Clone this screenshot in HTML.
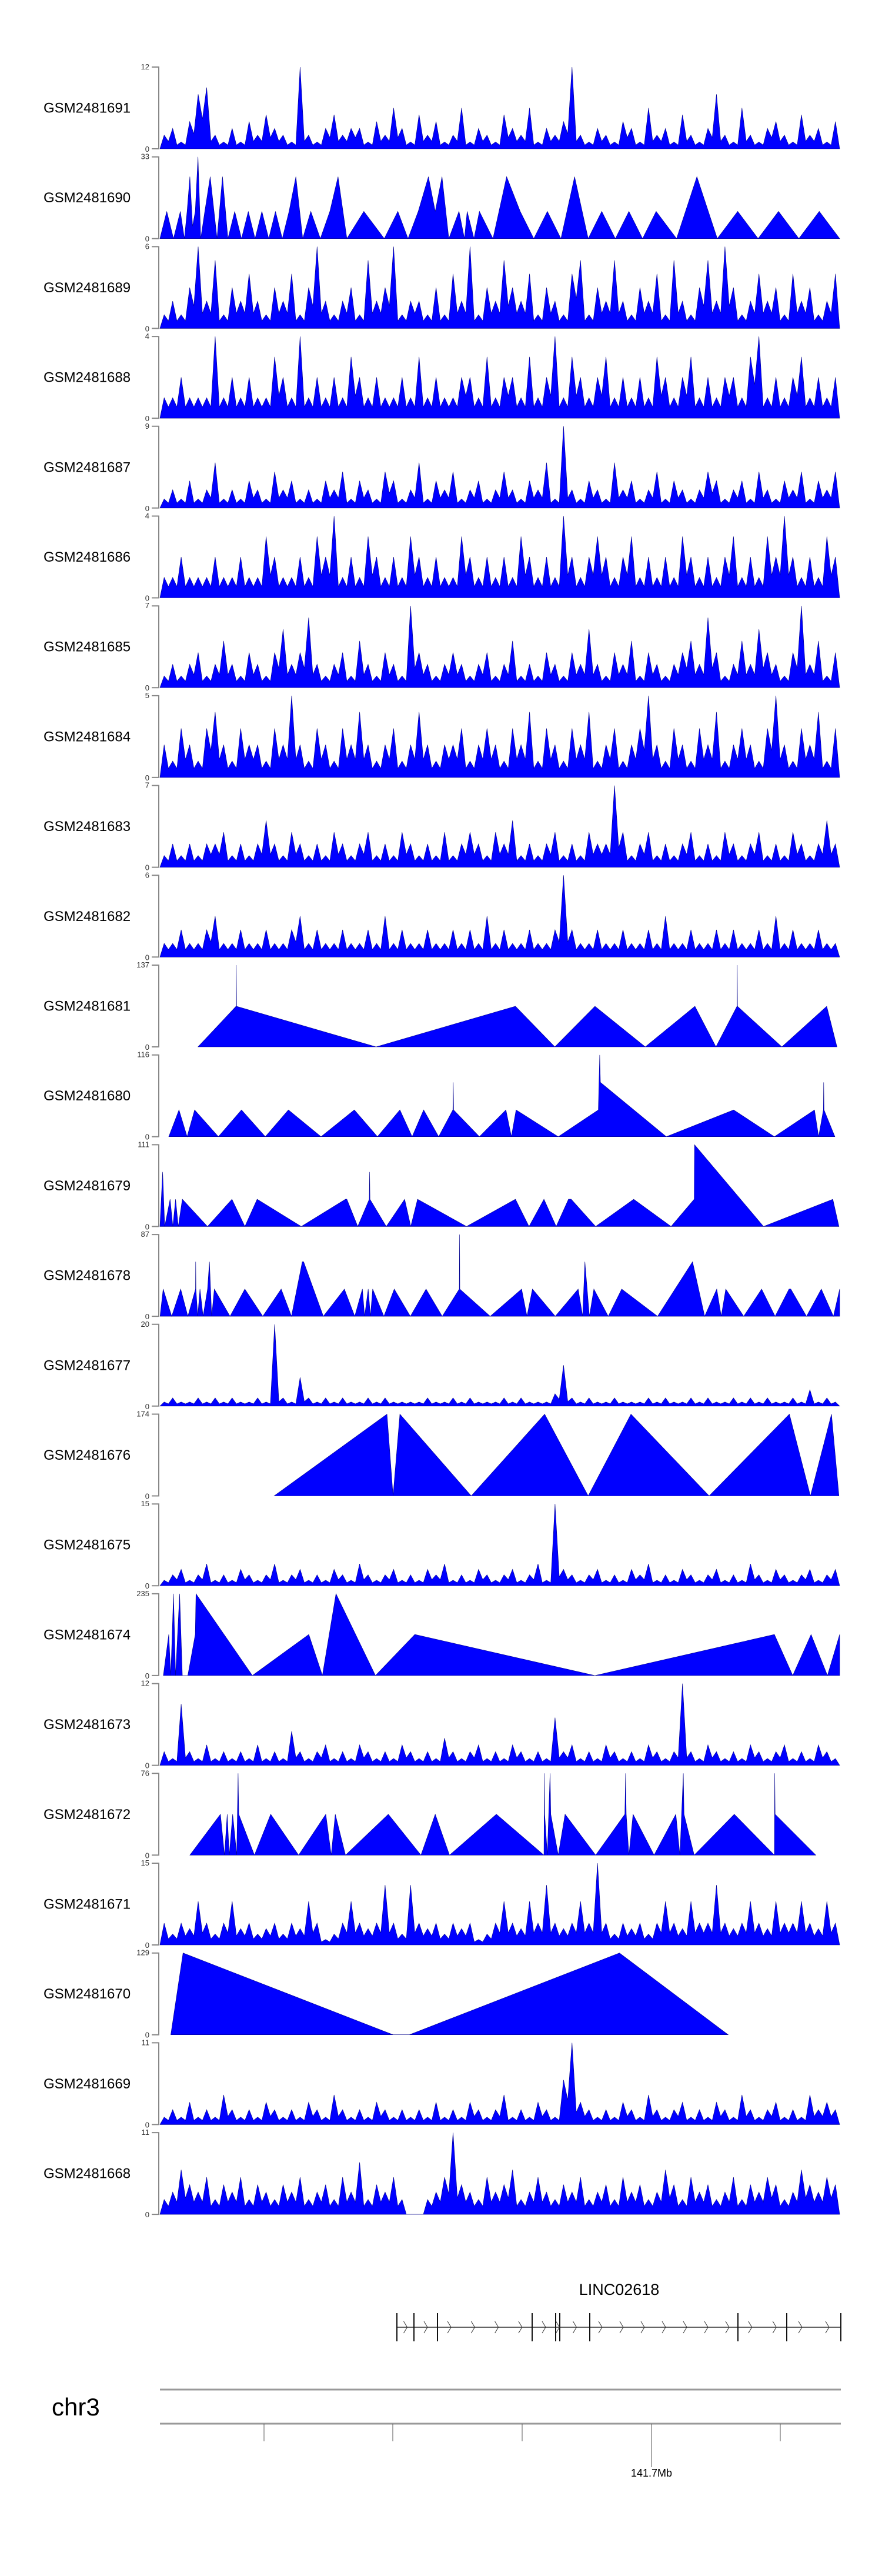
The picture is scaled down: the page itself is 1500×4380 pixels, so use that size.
<!DOCTYPE html>
<html><head><meta charset="utf-8">
<style>
html,body{margin:0;padding:0;background:#fff;}
svg{display:block;font-family:"Liberation Sans",sans-serif;}
</style></head>
<body>
<svg id="chart" width="1500" height="4380" viewBox="0 0 1500 4380" xmlns="http://www.w3.org/2000/svg">
<g id="tracks"></g>
<g id="gene">
  <text x="1053" y="3902" font-size="27" text-anchor="middle" fill="#000">LINC02618</text>
</g>
<g id="ideo">
  <text x="88" y="4107" font-size="42" fill="#000">chr3</text>
  <text x="1108" y="4211" font-size="18" text-anchor="middle" fill="#000">141.7Mb</text>
</g>
</svg>
<script>
// ---- data ----
const trackNames = ["GSM2481691","GSM2481690","GSM2481689","GSM2481688","GSM2481687","GSM2481686","GSM2481685","GSM2481684","GSM2481683","GSM2481682","GSM2481681","GSM2481680","GSM2481679","GSM2481678","GSM2481677","GSM2481676","GSM2481675","GSM2481674","GSM2481673","GSM2481672","GSM2481671","GSM2481670","GSM2481669","GSM2481668"];
const trackMax = [12,33,6,4,9,4,7,5,7,6,137,116,111,87,20,174,15,235,12,76,15,129,11,11];

const t1Values = [2,3,1,4,8,9,2,1,3,1,4,2,5,3,2,1,12,2,1,3,5,2,3,3,1,4,2,6,3,1,5,2,4,1,2,6,1,3,2,1,5,3,2,6,1,3,2,4,12,2,1,3,2,1,4,3,1,6,2,3,1,5,2,1,3,8,2,1,6,2,1,3,4,2,1,5,2,3,1,4];
const t3Values = [1,2,1,3,6,2,5,1,3,2,4,2,1,3,2,4,1,3,6,2,1,2,3,1,5,2,3,6,1,2,2,1,3,1,4,2,6,1,3,2,5,3,2,4,1,3,2,1,4,5,1,3,2,5,2,1,3,2,4,1,5,2,1,3,5,2,6,3,1,2,4,2,3,1,4,2,3,1,2,4];
const t4Values = [1,1,2,1,1,1,4,1,2,1,2,1,1,3,2,1,4,1,2,1,2,1,3,2,1,2,1,1,2,1,3,1,2,1,1,2,2,1,3,1,2,2,1,3,1,2,4,1,3,2,1,2,3,1,2,1,2,1,3,2,1,2,3,1,2,1,2,2,1,3,4,1,2,1,2,3,1,2,1,2];
const t5Values = [1,2,1,3,1,2,5,1,2,1,3,2,1,4,2,3,1,2,1,3,2,4,1,3,2,1,4,3,1,2,5,1,3,2,4,1,2,3,1,2,4,2,1,3,2,5,1,9,2,1,3,2,1,5,2,3,1,2,4,1,3,2,1,2,4,3,1,2,3,1,4,2,1,3,2,4,1,3,2,4];
const t6Values = [1,1,2,1,1,1,2,1,1,2,1,1,3,2,1,1,2,1,3,2,4,1,2,1,3,2,1,2,1,3,2,1,2,1,1,3,2,1,2,1,2,1,3,2,1,2,1,4,2,1,2,3,2,1,2,3,1,2,1,2,1,3,2,1,2,1,2,3,1,2,1,3,2,4,2,1,2,1,3,2];
const t7Values = [1,2,1,2,3,1,2,4,2,1,3,2,1,3,5,2,3,6,2,1,2,3,1,4,2,1,3,2,1,7,3,2,1,2,3,2,1,2,3,1,2,4,1,2,1,3,2,1,3,2,5,2,1,3,2,4,1,3,2,1,2,3,4,2,6,3,1,2,4,2,5,3,2,1,3,7,2,4,1,3];
const t8Values = [2,1,3,2,1,3,4,2,1,3,2,2,1,3,2,5,2,1,3,2,1,3,2,4,2,1,2,3,1,2,4,2,1,2,2,3,1,2,3,2,1,3,2,4,1,3,2,1,3,2,4,1,2,3,1,2,3,5,2,1,3,2,1,3,2,4,1,2,3,2,1,3,5,2,1,3,2,4,1,3];
const t9Values = [1,2,1,2,1,2,2,3,1,2,1,2,4,2,1,3,2,1,2,1,3,2,1,2,3,1,2,1,3,2,1,2,1,3,1,2,3,2,1,3,2,4,1,2,1,2,3,1,2,1,3,2,2,7,3,1,2,3,1,2,1,2,3,1,2,1,3,2,1,2,3,1,2,1,3,2,1,2,4,2];
const t10Values = [1,1,2,1,1,2,3,1,1,2,1,1,2,1,1,2,3,1,2,1,1,2,1,1,2,1,3,1,2,1,1,2,1,1,2,1,2,1,3,1,2,1,1,2,1,1,2,6,2,1,1,2,1,1,2,1,1,2,1,3,1,1,2,1,1,2,1,2,1,1,2,1,3,1,2,1,1,2,1,1];
const t15Values = [1,2,1,1,2,1,2,1,2,1,1,2,1,20,2,1,7,2,1,2,1,2,1,1,2,1,2,1,1,1,1,2,1,1,2,1,2,1,1,1,2,1,2,1,1,1,3,10,2,1,2,1,1,2,1,1,1,2,1,2,1,1,2,1,2,1,1,2,1,2,1,2,1,1,2,1,4,1,2,1];
const t17Values = [1,2,3,1,2,4,1,2,1,3,2,1,2,4,1,2,3,1,2,1,3,2,1,4,2,1,2,3,1,2,1,3,2,4,1,2,1,3,2,1,2,3,1,2,4,1,15,3,2,1,2,3,1,2,1,3,2,4,1,2,1,3,2,1,2,3,1,2,1,4,2,1,3,2,1,2,3,1,2,3];
const t19Values = [2,1,9,2,1,3,1,2,1,2,1,3,1,2,1,5,2,1,2,3,1,2,1,3,2,1,2,1,3,2,1,2,1,4,2,1,2,3,1,2,1,3,2,1,2,1,7,2,3,1,2,1,3,2,1,2,1,3,2,1,2,12,2,1,3,2,1,2,1,3,2,1,2,3,1,2,1,3,2,1];
const t21Values = [4,2,4,3,8,4,2,4,8,3,4,2,3,4,2,4,3,8,4,1,2,4,8,4,3,4,11,4,2,11,4,3,4,2,4,3,4,1,2,4,8,4,3,8,4,11,4,3,4,8,4,15,4,2,4,3,4,2,4,8,4,3,8,4,4,11,4,3,4,8,4,3,8,4,4,8,4,3,8,4];
const t23Values = [1,2,1,3,1,2,1,4,2,1,2,1,3,2,1,2,1,3,2,1,4,2,1,2,1,3,2,1,2,1,2,1,3,1,2,1,3,2,1,2,4,1,2,1,3,2,1,6,11,3,2,1,2,1,3,2,1,4,2,1,2,3,1,2,1,3,2,1,4,2,1,2,3,1,2,1,4,2,3,2];
const t24Values = [2,3,6,4,3,5,2,4,3,5,2,4,3,2,4,3,5,2,3,4,2,5,3,7,2,4,3,5,2,0,0,2,3,5,11,4,3,2,5,3,4,6,2,3,5,3,2,4,3,5,2,3,4,2,5,3,4,2,3,6,4,2,5,3,4,2,3,5,2,4,3,5,4,2,3,6,4,3,5,4];

// triangle tracks: genomic positions (0-1000 of view) and values
const t2Pos = [0,10,20,30,36,40,44,48,52,56,60,66,74,84,92,100,110,120,130,140,150,160,170,180,190,200,210,222,236,250,262,275,300,330,350,365,380,395,405,415,425,440,448,452,462,470,490,510,530,550,570,590,610,630,650,670,690,710,730,760,790,820,850,880,910,940,970,1000];
const t2Values = [0,11,0,11,0,11,25,5,11,33,0,11,25,0,25,0,11,0,11,0,11,0,11,0,11,25,0,11,0,11,25,0,11,0,11,0,11,25,11,25,0,11,0,11,0,11,0,25,11,0,11,0,25,0,11,0,11,0,11,0,25,0,11,0,11,0,11,0];
const t11Pos = [56,112,112.3,112.6,318,523,581,640,714,787,818,849,849.3,849.6,915,981,996];
const t11Values = [0,68,137,68,0,68,0,68,0,68,0,68,137,68,0,68,0];
const t12Pos = [13,28,40,51,86,120,155,189,237,286,320,353,371,388,410,431,431.5,432,470,509,517,524,586,645,647,648,745,844,904,963,969,976,976.5,977,993];
const t12Values = [0,38,0,38,0,38,0,38,0,38,0,38,0,38,0,38,77,38,0,38,0,38,0,38,116,77,0,38,0,38,0,38,77,38,0];
const t13Pos = [-1,2,4,7,15,19,23,27,33,70,106,125,143,208,273,275,291,308,308.5,309,333,360,369,379,451,523,543,565,583,601,605,641,697,752,786,786.5,888,990,999];
const t13Values = [0,37,74,0,37,0,37,0,37,0,37,0,37,0,37,37,0,37,74,37,0,37,0,37,0,37,0,37,0,37,37,0,37,0,37,111,0,37,0];
const t14Pos = [0.2,4.8,17.3,30.5,41.1,52.3,52.6,52.9,55.6,58.9,63.5,70.1,72.8,76.1,80,103.1,124.9,151.3,178.4,193.5,209.4,211.4,240.4,271.4,286.6,297.8,301.1,306.4,309.7,313,329.5,344.7,368.4,391.5,415.3,440.4,440.8,441.2,485.9,532.1,540,548,581.6,615.3,621.9,625.2,631.8,638.4,659.5,679.3,732.1,783.6,801.4,819.2,825.8,832.4,858.8,885.2,905,925.5,928.1,951.2,973,990.8,1000];
const t14Values = [0,29,0,29,0,29,58,29,0,29,0,29,58,0,29,0,29,0,29,0,58,58,0,29,0,29,0,29,0,29,0,29,0,29,0,29,87,29,0,29,0,29,0,29,0,58,0,29,0,29,0,58,0,29,0,29,0,29,0,29,29,0,29,0,29];
const t16Pos = [168,334,343,353,458,566,630,693,808,926,957,988,999];
const t16Values = [0,174,0,174,0,174,0,174,0,174,0,174,0];
const t18Pos = [5,13,16,20,23,29,33,41,52,53,136,219,239,259,317,375,640,904,931,958,982,1000];
const t18Values = [0,118,0,235,0,235,0,0,118,235,0,118,0,235,0,118,0,118,0,118,0,118];
const t20Pos = [44,89,95,99,102,107,113,115,116,139,163,204,244,252,258,273,336,384,405,426,495,565,565.5,566,570,574,575,586,596,641,684,685,686,690,696,727,759,765,770,771,786,845,904,904.5,905,965];
const t20Values = [0,38,0,38,0,38,0,76,38,0,38,0,38,0,38,0,38,0,38,0,38,0,76,38,0,76,38,0,38,0,38,76,38,0,38,0,38,0,76,38,0,38,0,76,38,0];
const t22Pos = [16,34,343,367,676,836];
const t22Values = [0,129,0,0,129,0];

const noisyMap = {0:t1Values,2:t3Values,3:t4Values,4:t5Values,5:t6Values,6:t7Values,7:t8Values,8:t9Values,9:t10Values,14:t15Values,16:t17Values,18:t19Values,20:t21Values,22:t23Values,23:t24Values};
const triMap = {1:[t2Pos,t2Values],10:[t11Pos,t11Values],11:[t12Pos,t12Values],12:[t13Pos,t13Values],13:[t14Pos,t14Values],15:[t16Pos,t16Values],17:[t18Pos,t18Values],19:[t20Pos,t20Values],21:[t22Pos,t22Values]};

// gene model
const exonPos = [675,704,744,905,945,952,1003,1255,1338,1430];
const chromTicks = [449,668,888,1108,1327];

// ---- drawing ----
const NS = "http://www.w3.org/2000/svg";
const X0 = 272, XW = 1156, TOP0 = 114, PITCH = 152.7, H = 139;
function xScale(p){ return X0 + p/1000*XW; }
function mk(tag, attrs, parent){ const e=document.createElementNS(NS,tag); for(const k in attrs) e.setAttribute(k,attrs[k]); parent.appendChild(e); return e; }

const tracksG = document.getElementById("tracks");
trackNames.forEach((name,i)=>{
  const top = TOP0 + i*PITCH, base = top + H, mx = trackMax[i];
  const yScale = v => base - Math.min(v,mx)/mx*H;
  const g = mk("g",{},tracksG);
  
  
  const lab = mk("text",{x:74,y:top+H/2+8,"font-size":24,fill:"#000"},g);
  lab.textContent = name;
  
  
  const ax = mk("path",{d:`M258 ${top} H270 V${base} H258`,fill:"none",stroke:"#888","stroke-width":2},g);
  
  
  const tMax = mk("text",{x:254,y:top+4,"font-size":13,"text-anchor":"end",fill:"#333"},g);
  tMax.textContent = mx;
  
  
  const t0 = mk("text",{x:254,y:base+5,"font-size":13,"text-anchor":"end",fill:"#333"},g);
  t0.textContent = "0";
  
  
  let pts = [];
  if(noisyMap[i]){
    const vals = noisyMap[i], n = vals.length, w = 1000/n;
    pts.push([xScale(0), base]);
    for(let k=0;k<n;k++){
      pts.push([xScale((k+0.5)*w), yScale(vals[k])]);
      const nxt = k<n-1 ? vals[k+1] : 0;
      pts.push([xScale((k+1)*w), yScale(Math.min(vals[k],nxt)*0.55)]);
    }
    pts.push([xScale(1000), base]);
  } else {
    const [ps,vs] = triMap[i];
    pts.push([xScale(Math.max(ps[0],0)), base]);
    ps.forEach((p,k)=>pts.push([xScale(Math.min(Math.max(p,0),1000)), yScale(vs[k])]));
    pts.push([xScale(Math.min(ps[ps.length-1],1000)), base]);
  }
  const poly = mk("polygon",{points:pts.map(p=>p[0].toFixed(1)+","+p[1].toFixed(1)).join(" "),fill:"#0000ff",stroke:"#00008b","stroke-width":0.6,"stroke-linejoin":"miter"},g);
  
  
});

// gene
const geneG = document.getElementById("gene");
const gl = mk("line",{x1:exonPos[0],x2:exonPos[exonPos.length-1],y1:3957,y2:3957,stroke:"#333","stroke-width":1.5},geneG);


exonPos.forEach(x=>{
  const l = mk("line",{x1:x,x2:x,y1:3933,y2:3981,stroke:"#111","stroke-width":2},geneG);
  
  
});
for(let k=0;k<exonPos.length-1;k++){
  const a=exonPos[k], b=exonPos[k+1];
  const n=Math.max(1,Math.round((b-a)/38));
  for(let j=0;j<n;j++){
    const cx=a+(j+0.5)*(b-a)/n;
    const c = mk("path",{d:`M${cx-3} 3947 L${cx+3} 3957 L${cx-3} 3967`,fill:"none",stroke:"#333","stroke-width":1},geneG);
    
    
  }
}

// chromosome axis
const ideo = document.getElementById("ideo");
[4063,4121].forEach(y=>{
  const l = mk("line",{x1:272,x2:1430,y1:y,y2:y,stroke:"#999","stroke-width":3},ideo);
  
  
});
chromTicks.forEach((x,k)=>{
  const l = mk("line",{x1:x,x2:x,y1:4121,y2:(k===3?4195:4151),stroke:"#555","stroke-width":1},ideo);
  
  
});
</script>
</body></html>
